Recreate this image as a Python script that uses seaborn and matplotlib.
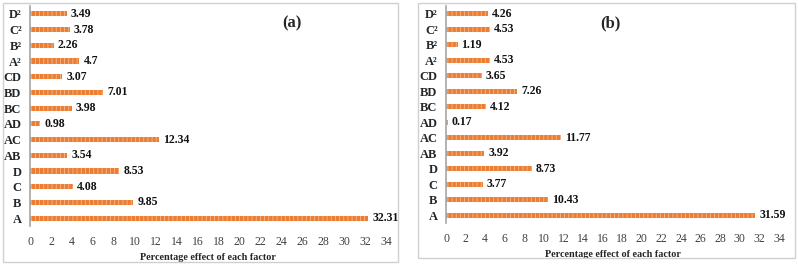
import matplotlib
matplotlib.use("Agg")
import matplotlib.pyplot as plt
import seaborn as sns
import pandas as pd
from matplotlib.patches import Rectangle

factors = ["D²", "C²", "B²", "A²", "CD", "BD", "BC", "AD", "AC", "AB", "D", "C", "B", "A"]
effect_a = [3.49, 3.78, 2.26, 4.7, 3.07, 7.01, 3.98, 0.98, 12.34, 3.54, 8.53, 4.08, 9.85, 32.31]
effect_b = [4.26, 4.53, 1.19, 4.53, 3.65, 7.26, 4.12, 0.17, 11.77, 3.92, 8.73, 3.77, 10.43, 31.59]
xticks = list(range(0, 35, 2))

sns.set_style("white")
plt.rcParams["font.family"] = ["Liberation Serif", "DejaVu Serif"]
plt.rcParams["hatch.linewidth"] = 0.6

W, H = 798, 266
fig = plt.figure(figsize=(W / 100, H / 100), dpi=100)


def px(x0, y0, x1, y1):
    return [x0 / W, 1 - y1 / H, (x1 - x0) / W, (y1 - y0) / H]


# panel frames
for (x0, y0, x1, y1) in [(3, 3, 398, 262), (418, 3, 795, 258)]:
    fig.patches.append(Rectangle((x0 / W, 1 - y1 / H), (x1 - x0) / W, (y1 - y0) / H,
                                 transform=fig.transFigure, fill=False,
                                 edgecolor="#d0d0d0", linewidth=1.0))

panels = [
    (effect_a, "(a)", px(30, 6, 386, 226), 292),
    (effect_b, "(b)", px(446, 6, 779, 223), 610),
]

for values, title, rect, tx in panels:
    ax = fig.add_axes(rect)
    df = pd.DataFrame({"factor": factors, "effect": values})
    sns.barplot(data=df, x="effect", y="factor", orient="h", ax=ax,
                color="#ED7D31", width=0.33, saturation=1)
    for bar in ax.patches:
        bar.set_hatch("||||")
        bar.set_edgecolor("#F6B88E")
        bar.set_linewidth(0)
    for i, v in enumerate(values):
        ax.text(v + 0.4, i, f"{v:g}", va="center", ha="left",
                fontsize=8.5, fontweight="bold", color="#111111")
    ax.set_xlim(0, 34)
    ax.set_ylim(13.5, -0.5)
    ax.set_xticks(xticks)
    ax.tick_params(axis="x", length=0, labelsize=8.5, colors="#404040", pad=7)
    ax.tick_params(axis="y", length=0, labelsize=9, pad=6)
    for lab in ax.get_yticklabels():
        lab.set_fontweight("bold")
    for s in ["top", "right", "bottom"]:
        ax.spines[s].set_visible(False)
    ax.spines["left"].set_color("#a6a6a6")
    ax.spines["left"].set_linewidth(1.2)
    ax.set_ylabel("")
    ax.set_xlabel("Percentage effect of each factor", fontsize=7.3,
                  fontweight="bold", labelpad=4)
    fig.text(tx / W, 1 - 23 / H, title, ha="center", va="center",
             fontsize=12, fontweight="bold")

fig.savefig("out.png", dpi=100)
